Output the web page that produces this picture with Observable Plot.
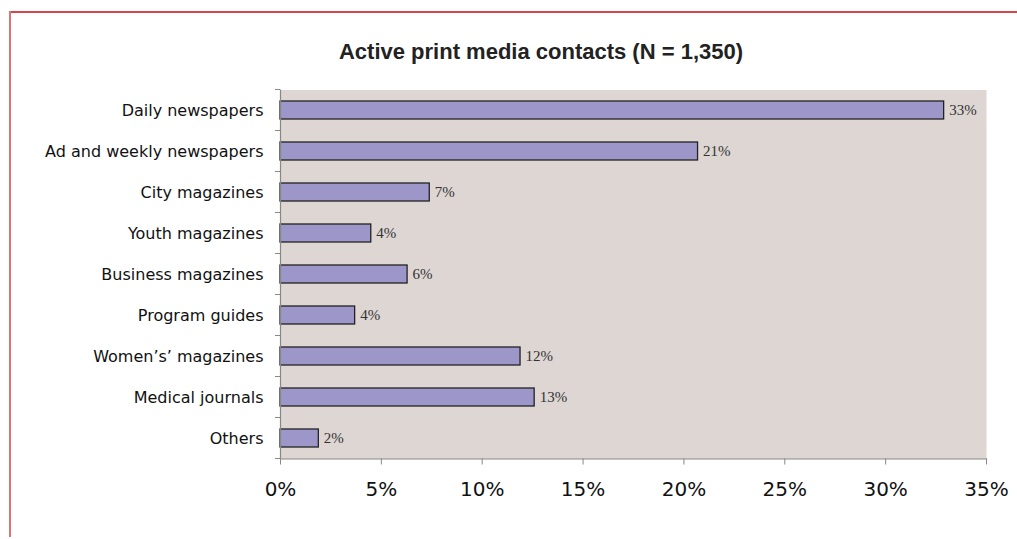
<!DOCTYPE html>
<html>
<head>
<meta charset="utf-8">
<script src="https://cdn.jsdelivr.net/npm/d3@7"></script>
<script src="https://cdn.jsdelivr.net/npm/@observablehq/plot@0.6"></script>
<style>
  html, body { margin: 0; padding: 0; background: #fff; }
  #wrap { position: relative; width: 1017px; height: 539px; overflow: hidden; }
  #topline { position: absolute; left: 9px; top: 11px; width: 1008px; height: 2px; background: #d9434b; }
  #leftline { position: absolute; left: 9px; top: 11px; width: 2px; height: 526px; background: #e0737a; }
  #title { height: 80px; box-sizing: border-box; padding-top: 39px; padding-left: 65px; text-align: center;
           font: bold 22px "Liberation Sans", Arial, sans-serif; color: #222; line-height: 26px; }
  svg { display: block; }
</style>
</head>
<body>
<div id="wrap">
  <div id="topline"></div>
  <div id="leftline"></div>
  <div id="title">Active print media contacts (N = 1,350)</div>
  <div id="chart"></div>
</div>
<script>
const categories = ["Daily newspapers", "Ad and weekly newspapers", "City magazines", "Youth magazines",
  "Business magazines", "Program guides", "Women\u2019s\u2019 magazines", "Medical journals", "Others"];
const values = [32.9, 20.7, 7.4, 4.5, 6.3, 3.7, 11.9, 12.6, 1.9];
const valueLabels = ["33%", "21%", "7%", "4%", "6%", "4%", "12%", "13%", "2%"];
const xTicks = [0, 5, 10, 15, 20, 25, 30, 35];

const data = categories.map((c, i) => ({category: c, value: values[i], label: valueLabels[i]}));

const paddingInner = 0.56;

function boundaryTicks(index, scales, values, dimensions) {
  const y = scales.y;
  const g = d3.create("svg:g");
  let bw = typeof y.bandwidth === "function" ? y.bandwidth() : y.bandwidth;
  const y0 = y(categories[0]), y1 = y(categories[1]);
  const step = y1 - y0;
  if (!(bw > 0)) bw = step * (1 - paddingInner);
  const gap = (step - bw) / 2;
  const xs = dimensions.marginLeft;
  const pos = [y0 - gap, ...categories.map(c => y(c) + bw + gap)];
  for (const p of pos) {
    g.append("line")
      .attr("x1", xs - 5).attr("x2", xs)
      .attr("y1", p).attr("y2", p)
      .attr("stroke", "#888").attr("stroke-width", 1);
  }
  return g.node();
}

const chart = Plot.plot({
  width: 1017,
  height: 459,
  marginLeft: 280,
  marginRight: 31,
  marginTop: 9.5,
  marginBottom: 80.5,
  style: {background: "transparent", overflow: "visible"},
  x: {domain: [0, 35], ticks: xTicks},
  y: {domain: categories, paddingInner: paddingInner, paddingOuter: paddingInner / 2},
  marks: [
    Plot.frame({fill: "#ddd6d3", stroke: "none"}),
    Plot.barX(data, {x: "value", y: "category", fill: "#9c97c8", stroke: "#222", strokeWidth: 1.3}),
    Plot.text(data, {x: "value", y: "category", text: "label", textAnchor: "start", dx: 5,
      fontFamily: "Liberation Serif, Times New Roman, serif", fontSize: 15, fill: "#333"}),
    Plot.ruleX([0], {stroke: "#888", strokeWidth: 1.2}),
    Plot.frame({anchor: "bottom", stroke: "#888", strokeWidth: 1.2}),
    Plot.axisX({ticks: xTicks, tickFormat: d => d + "%", tickSize: 6, tickPadding: 17, stroke: "#888",
      fontSize: 20, fontFamily: "DejaVu Sans, Verdana, sans-serif", fill: "#111", label: null}),
    Plot.axisY({tickSize: 0, tickPadding: 17, fontSize: 16, fontFamily: "DejaVu Sans, Verdana, sans-serif",
      fill: "#111", label: null}),
    boundaryTicks
  ]
});
document.getElementById("chart").appendChild(chart);
</script>
</body>
</html>
